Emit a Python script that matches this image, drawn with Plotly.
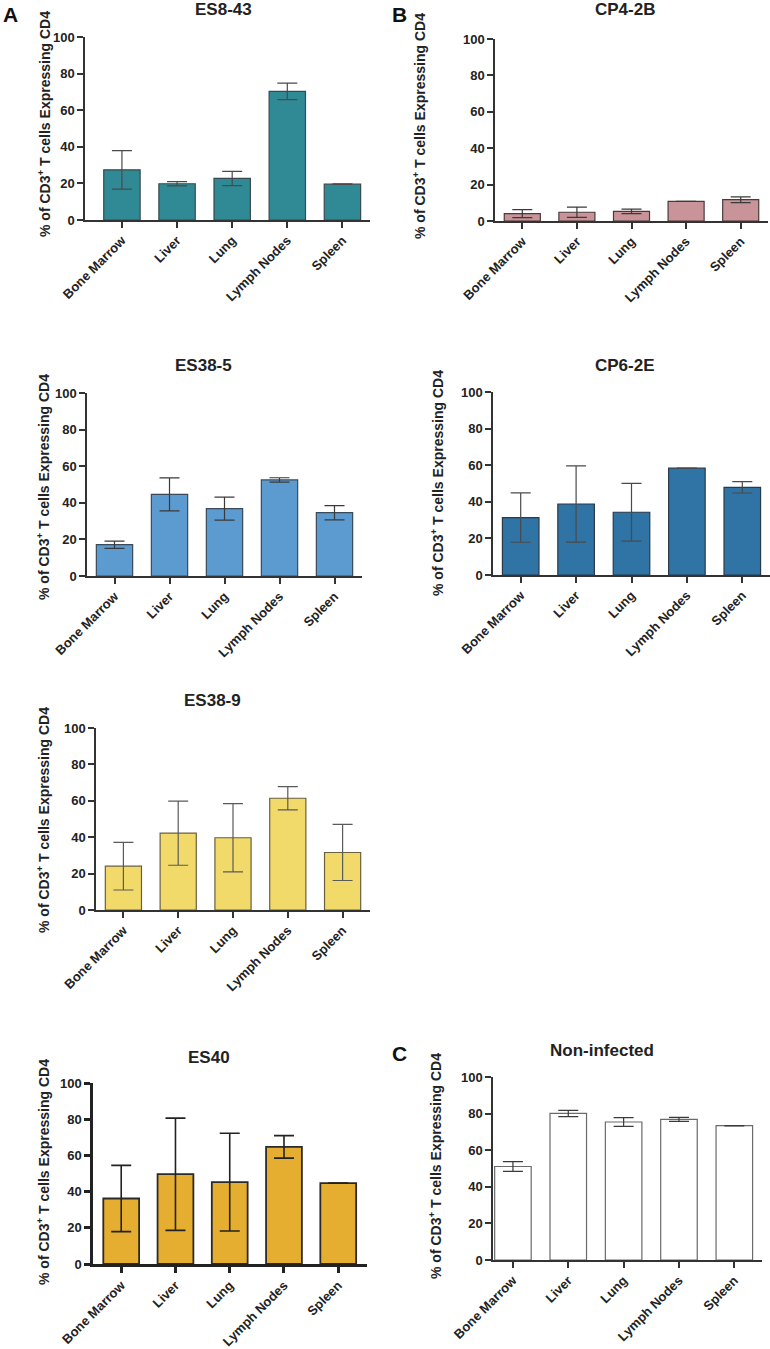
import plotly.graph_objects as go

W, H = 770, 1349

categories = ["Bone Marrow", "Liver", "Lung", "Lymph Nodes", "Spleen"]
y_ticks = [0, 20, 40, 60, 80, 100]

es8_43_mean = [27.4, 19.8, 22.7, 70.3, 19.6]
es8_43_err = [10.5, 1.2, 3.9, 4.5, 0.1]
cp4_2b_mean = [4.0, 4.8, 5.3, 10.8, 11.7]
cp4_2b_err = [2.2, 2.8, 1.2, 0.0, 1.6]
es38_5_mean = [17.1, 44.6, 36.8, 52.5, 34.6]
es38_5_err = [2.0, 9.0, 6.3, 1.2, 3.9]
cp6_2e_mean = [31.4, 38.8, 34.3, 58.4, 47.9]
cp6_2e_err = [13.5, 20.8, 15.8, 0.0, 3.1]
es38_9_mean = [24.1, 42.2, 39.7, 61.4, 31.6]
es38_9_err = [13.1, 17.6, 18.8, 6.4, 15.4]
es40_mean = [36.2, 49.6, 45.2, 64.7, 44.7]
es40_err = [18.3, 31.0, 27.0, 6.2, 0.0]
noninf_mean = [51.1, 80.1, 75.4, 76.8, 73.4]
noninf_err = [2.7, 1.7, 2.4, 1.1, 0.1]

panels = [
    dict(title="ES8-43", mean=es8_43_mean, err=es8_43_err, fill="#2f8a96", line="#3a4a4c",
         ecol="#4a4a4a", box=(85, 370, 37, 220), xr=[-0.67, 4.5], aw=1.5,
         tpos=(223, 10), ypos=(44, 124)),
    dict(title="CP4-2B", mean=cp4_2b_mean, err=cp4_2b_err, fill="#c89499", line="#4a3a3a",
         ecol="#3a3a3a", box=(495, 768, 39, 221), xr=[-0.5, 4.5], aw=1.5,
         tpos=(625, 10), ypos=(419, 126)),
    dict(title="ES38-5", mean=es38_5_mean, err=es38_5_err, fill="#5b9bcf", line="#3a4a5a",
         ecol="#3a3a3a", box=(87, 362, 393, 576), xr=[-0.5, 4.5], aw=1.5,
         tpos=(204, 365), ypos=(43, 487)),
    dict(title="CP6-2E", mean=cp6_2e_mean, err=cp6_2e_err, fill="#2f74a4", line="#2a3a4a",
         ecol="#4a4a4a", box=(493, 770, 392, 575), xr=[-0.5, 4.5], aw=1.5,
         tpos=(625, 365), ypos=(437, 483)),
    dict(title="ES38-9", mean=es38_9_mean, err=es38_9_err, fill="#f2da6a", line="#6a6040",
         ecol="#5a5a5a", box=(96, 370, 728, 910), xr=[-0.5, 4.5], aw=1.5,
         tpos=(213, 700), ypos=(43, 820)),
    dict(title="ES40", mean=es40_mean, err=es40_err, fill="#e6ae30", line="#2a2a2a",
         ecol="#222222", box=(93, 367, 1083, 1264), xr=[-0.52, 4.53], aw=2.5,
         tpos=(209, 1057), ypos=(43, 1172)),
    dict(title="Non-infected", mean=noninf_mean, err=noninf_err, fill="#ffffff", line="#6a6a6a",
         ecol="#3a3a3a", box=(493, 762, 1077, 1260), xr=[-0.36, 4.5], aw=1.5,
         tpos=(602, 1050), ypos=(435, 1166)),
]

FONT = "Liberation Sans"
fig = go.Figure()
annotations = []
layout = {}

for i, p in enumerate(panels):
    n = "" if i == 0 else str(i + 1)
    x0, x1, yt, yb = p["box"]
    fig.add_trace(go.Bar(
        x=list(range(len(categories))), y=p["mean"],
        xaxis="x" + n, yaxis="y" + n,
        width=0.66,
        marker=dict(color=p["fill"], line=dict(color=p["line"], width=1.2 if p["aw"] < 2 else 1.8)),
        error_y=dict(type="data", array=p["err"], visible=True, color=p["ecol"],
                     thickness=1.2 if p["aw"] < 2 else 1.6, width=10),
        showlegend=False, hoverinfo="skip",
    ))
    axcol = "#333333" if p["aw"] < 2 else "#222222"
    layout["xaxis" + n] = dict(
        domain=[x0 / W, min(x1 / W, 1.0)], anchor="y" + n, range=p["xr"],
        tickmode="array", tickvals=list(range(len(categories))), ticktext=categories,
        tickangle=-45, ticks="outside", ticklen=6, tickwidth=p["aw"], tickcolor=axcol,
        showline=True, linecolor=axcol, linewidth=p["aw"], showgrid=False, zeroline=False,
        tickfont=dict(family=FONT, size=13, color="#222222", weight="bold"),
        fixedrange=True, automargin=False,
    )
    layout["yaxis" + n] = dict(
        domain=[1 - yb / H, 1 - yt / H], anchor="x" + n, range=[0, 100],
        tickmode="array", tickvals=y_ticks, ticks="outside", ticklen=6,
        tickwidth=p["aw"], tickcolor=axcol,
        showline=True, linecolor=axcol, linewidth=p["aw"], showgrid=False, zeroline=False,
        tickfont=dict(family=FONT, size=13, color="#222222", weight="bold"),
        fixedrange=True, automargin=False,
    )
    tx, ty = p["tpos"]
    annotations.append(dict(
        text=p["title"], x=tx / W, y=1 - ty / H, xref="paper", yref="paper",
        showarrow=False, xanchor="center", yanchor="middle",
        font=dict(family=FONT, size=17, color="#222222", weight="bold"),
    ))
    yx, yy = p["ypos"]
    annotations.append(dict(
        text="% of CD3<sup>+</sup> T cells Expressing CD4", x=yx / W, y=1 - yy / H,
        xref="paper", yref="paper", showarrow=False, textangle=-90,
        xanchor="center", yanchor="middle",
        font=dict(family=FONT, size=14, color="#222222", weight="bold"),
    ))

for letter, lx, ly in [("A", 10, 15), ("B", 400, 15), ("C", 400, 1053)]:
    annotations.append(dict(
        text=letter, x=lx / W, y=1 - ly / H, xref="paper", yref="paper",
        showarrow=False, xanchor="center", yanchor="middle",
        font=dict(family=FONT, size=21, color="#111111", weight="bold"),
    ))

fig.update_layout(
    width=W, height=H, margin=dict(l=0, r=0, t=0, b=0, autoexpand=False),
    paper_bgcolor="white", plot_bgcolor="white",
    annotations=annotations, bargap=0.3, hovermode=False,
    **layout,
)

fig.write_html(
    "out.html",
    config={"displayModeBar": False},
    post_script="document.body.style.margin='0';document.body.style.padding='0';"
                "document.body.style.overflow='hidden';",
)
